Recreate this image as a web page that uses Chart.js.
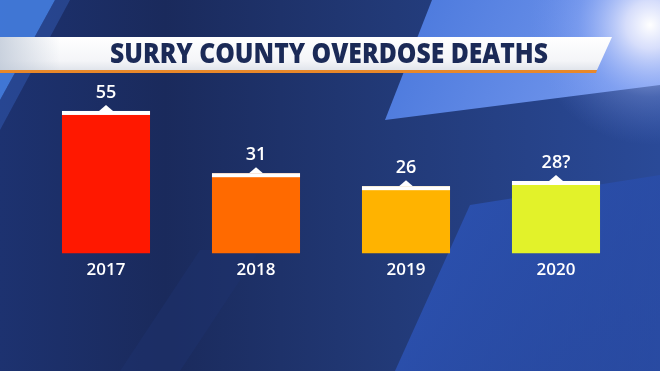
<!DOCTYPE html>
<html>
<head>
<meta charset="utf-8">
<script src="https://cdn.jsdelivr.net/npm/chart.js@4"></script>
<style>
  html, body { margin: 0; padding: 0; background: #1c2d5e; }
  canvas { display: block; }
</style>
</head>
<body>
<canvas id="chart-bars" width="660" height="371"></canvas>
<script>
//CHART DATA
var years = ["2017", "2018", "2019", "2020"];
var deaths = [55, 31, 26, 28];
var valueLabels = ["55", "31", "26", "28?"];
var barColors = ["#ff1800", "#ff6a00", "#ffb300", "#e2f22a"];
var chartTitle = "SURRY COUNTY OVERDOSE DEATHS";

//BACKGROUND + TITLE BANNER
var backdrop = {
  id: "backdrop",
  beforeDraw: function (chart) {
    var c = chart.ctx;
    var w = chart.width, h = chart.height;
    c.save();
    var g = c.createLinearGradient(0, 0, w, 0);
    g.addColorStop(0, "#1d3270");
    g.addColorStop(0.25, "#1a2a5c");
    g.addColorStop(0.6, "#223a78");
    g.addColorStop(1, "#2a4a98");
    c.fillStyle = g;
    c.fillRect(0, 0, w, h);

    // upper left light streak
    c.fillStyle = "rgba(70,130,230,0.85)";
    c.beginPath();
    c.moveTo(0, 0); c.lineTo(55, 0); c.lineTo(0, 100); c.closePath();
    c.fill();
    c.fillStyle = "rgba(60,110,210,0.35)";
    c.beginPath();
    c.moveTo(55, 0); c.lineTo(70, 0); c.lineTo(0, 130); c.lineTo(0, 100); c.closePath();
    c.fill();

    // upper right bright panel
    var g2 = c.createLinearGradient(400, 0, 660, 120);
    g2.addColorStop(0, "#4a78dc");
    g2.addColorStop(1, "#7b9df0");
    c.fillStyle = g2;
    c.beginPath();
    c.moveTo(432, 0); c.lineTo(660, 0); c.lineTo(660, 85); c.lineTo(385, 120); c.closePath();
    c.fill();

    // lower right lighter panel
    var g3 = c.createLinearGradient(400, 250, 660, 371);
    g3.addColorStop(0, "rgba(45,85,185,0.85)");
    g3.addColorStop(1, "rgba(40,75,170,0.55)");
    c.fillStyle = g3;
    c.beginPath();
    c.moveTo(470, 205); c.lineTo(660, 175); c.lineTo(660, 371); c.lineTo(395, 371); c.closePath();
    c.fill();

    // faint diagonal in lower middle
    c.fillStyle = "rgba(30,50,110,0.5)";
    c.beginPath();
    c.moveTo(200, 250); c.lineTo(260, 250); c.lineTo(180, 371); c.lineTo(120, 371); c.closePath();
    c.fill();

    // lens flare
    var rg = c.createRadialGradient(650, 25, 0, 650, 25, 120);
    rg.addColorStop(0, "rgba(255,255,255,1)");
    rg.addColorStop(0.2, "rgba(240,240,255,0.8)");
    rg.addColorStop(0.6, "rgba(170,190,255,0.25)");
    rg.addColorStop(1, "rgba(120,150,240,0)");
    c.fillStyle = rg;
    c.fillRect(500, 0, 160, 180);

    // banner
    var bg = c.createLinearGradient(0, 37, 0, 71);
    bg.addColorStop(0, "#ffffff");
    bg.addColorStop(0.7, "#f4f5f8");
    bg.addColorStop(1, "#dfe3ea");
    c.fillStyle = bg;
    c.beginPath();
    c.moveTo(0, 37); c.lineTo(612, 37); c.lineTo(597, 70); c.lineTo(0, 70); c.closePath();
    c.fill();
    var lg = c.createLinearGradient(0, 0, 60, 0);
    lg.addColorStop(0, "rgba(190,200,215,0.8)");
    lg.addColorStop(1, "rgba(190,200,215,0)");
    c.fillStyle = lg;
    c.fillRect(0, 37, 60, 33);
    // orange underline
    c.fillStyle = "#e8882a";
    c.beginPath();
    c.moveTo(0, 70); c.lineTo(597, 70); c.lineTo(596, 73); c.lineTo(0, 73); c.closePath();
    c.fill();

    // title text
    c.font = "800 28px 'Open Sans'";
    c.fillStyle = "#1b2a57";
    c.textAlign = "center";
    c.textBaseline = "middle";
    var tw = c.measureText(chartTitle).width;
    c.translate(329, 55);
    c.scale(438 / tw, 1);
    c.fillText(chartTitle, 0, 0);
    c.restore();
  },
};

//WHITE CAPS + VALUE LABELS
var caps = {
  id: "caps",
  afterDatasetsDraw: function (chart) {
    var c = chart.ctx;
    var meta = chart.getDatasetMeta(0);
    c.save();
    meta.data.forEach(function (bar, i) {
      var left = bar.x - bar.width / 2;
      c.fillStyle = "#ffffff";
      c.fillRect(left, bar.y, bar.width, 4);
      c.beginPath();
      c.moveTo(bar.x - 7, bar.y);
      c.lineTo(bar.x, bar.y - 6);
      c.lineTo(bar.x + 7, bar.y);
      c.closePath();
      c.fill();
      c.font = "600 18px 'Open Sans'";
      c.textAlign = "center";
      c.textBaseline = "middle";
      c.fillText(valueLabels[i], bar.x, bar.y - 18);
    });
    c.restore();
  },
};

/*************************CHART CONFIGURATION*******************/
var config = {
  type: "bar",
  data: {
    labels: years,
    datasets: [
      {
        data: deaths,
        backgroundColor: barColors,
        borderWidth: 0,
        barPercentage: 0.587,
        categoryPercentage: 1,
      },
    ],
  },
  options: {
    responsive: false,
    animation: false,
    layout: { padding: { left: 31, right: 29, top: 98, bottom: 85 } },
    plugins: {
      legend: { display: false },
      title: { display: false },
      tooltip: { enabled: false },
    },
    scales: {
      y: { display: false, min: 0, max: 60 },
      x: {
        grid: { display: false, drawTicks: false },
        border: { display: false },
        ticks: {
          color: "#ffffff",
          padding: 6,
          font: { family: "'Open Sans'", size: 17, weight: "600" },
        },
      },
    },
  },
  plugins: [backdrop, caps],
};

//ONLOAD
window.onload = function () {
  var ctx = document.getElementById("chart-bars").getContext("2d");
  window.myBars = new Chart(ctx, config);
};
</script>
</body>
</html>
